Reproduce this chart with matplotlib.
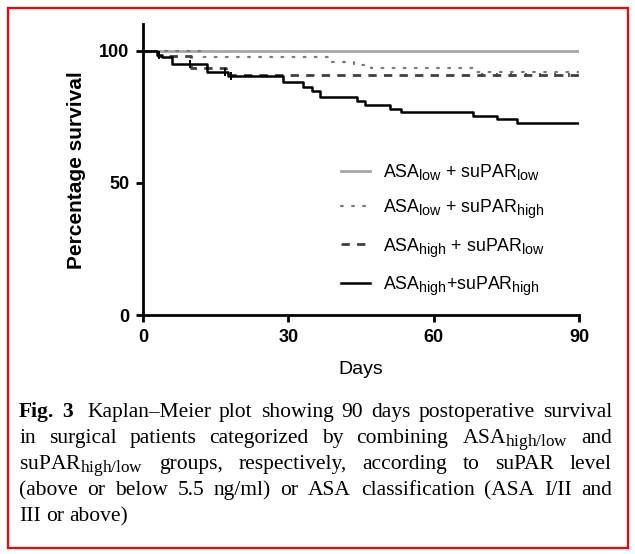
import matplotlib
matplotlib.use("Agg")
import matplotlib.pyplot as plt
from matplotlib.patches import Rectangle
try:
    import matplotlib._mathtext as _mt
    _mt.SHRINK_FACTOR = 0.8
except Exception:
    pass

# ---------------- data ----------------
labels = [r"ASA$_\mathregular{low}$ + suPAR$_\mathregular{low}$",
          r"ASA$_\mathregular{low}$ + suPAR$_\mathregular{high}$",
          r"ASA$_\mathregular{high}$ + suPAR$_\mathregular{low}$",
          r"ASA$_\mathregular{high}$+suPAR$_\mathregular{high}$"]

t_ll = [0, 90]
s_ll = [100, 100]

t_lh = [0, 12.0, 38.4, 43.5, 47.0, 68.3, 90]
s_lh = [100, 97.6, 95.7, 94.5, 93.4, 91.8, 91.8]

t_hl = [0, 3.0, 10.0, 17.2, 90]
s_hl = [100, 97.9, 93.4, 90.8, 90.8]

t_hh = [0, 2.8, 3.9, 5.9, 13.2, 17.5, 28.9, 33.0, 34.9, 36.6, 44.1, 45.9,
        50.9, 53.2, 68.2, 73.1, 77.1, 90]
s_hh = [100, 98.5, 97.6, 94.9, 91.8, 90.6, 88.0, 86.4, 84.9, 82.4, 81.1,
        79.6, 78.1, 76.9, 75.3, 74.0, 72.6, 72.6]

# censored observations (tick marks)
cens_hh_t = [3.3, 9.8, 17.0, 18.2]
cens_hh_s = [98.5, 94.9, 91.8, 90.6]
cens_hl_t = [70, 73, 76, 79, 82, 85, 88]
cens_hl_s = [90.8] * 7

xticks = [0, 30, 60, 90]
yticks = [0, 50, 100]

caption_lines = [
    ["Fig.", "3", "Kaplan–Meier", "plot", "showing", "90", "days", "postoperative", "survival"],
    ["in", "surgical", "patients", "categorized", "by", "combining",
     r"ASA$_\mathregular{high/low}$", "and"],
    [r"suPAR$_\mathregular{high/low}$", "groups,", "respectively,", "according", "to", "suPAR", "level"],
    ["(above", "or", "below", "5.5", "ng/ml)", "or", "ASA", "classification", "(ASA", "I/II", "and"],
    ["III", "or", "above)"],
]

# ---------------- figure ----------------
W, H = 635, 554
fig = plt.figure(figsize=(W / 100, H / 100), dpi=100)

def fx(px):
    return px / W

def fy(py):
    return 1 - py / H

ax_l, ax_r, ax_t, ax_b = 143, 579, 24.3, 315
ax = fig.add_axes([fx(ax_l), fy(ax_b), fx(ax_r) - fx(ax_l), fy(ax_t) - fy(ax_b)])

ax.step(t_ll, s_ll, where="post", color="#a6a6a6", lw=2.0, label=labels[0], zorder=2)
ax.step(t_lh, s_lh, where="post", color="#7a7a7a", lw=1.6, ls=(0, (0.8, 4.2)),
        dash_capstyle="round", label=labels[1], zorder=3)
ax.step(t_hl, s_hl, where="post", color="#404040", lw=2.0, ls=(0, (3.0, 2.6)),
        label=labels[2], zorder=3)
ax.step(t_hh, s_hh, where="post", color="black", lw=1.8, label=labels[3], zorder=4)
ax.plot(cens_hh_t, cens_hh_s, ls="none", marker="|", ms=6, mew=1.4, color="black", zorder=4)
ax.plot(cens_hl_t, cens_hl_s, ls="none", marker="|", ms=3, mew=1.2, color="#404040", zorder=4)

ax.set_xlim(0, 90)
ax.set_ylim(0, 110)
ax.set_xticks(xticks)
ax.set_yticks(yticks)
for sp in ["top", "right"]:
    ax.spines[sp].set_visible(False)
for sp in ["left", "bottom"]:
    ax.spines[sp].set_linewidth(2.0)
ax.spines["left"].set_bounds(0, 110)
ax.tick_params(width=2.0, length=5, labelsize=13, pad=5)
for lab in ax.get_xticklabels() + ax.get_yticklabels():
    lab.set_fontfamily("Liberation Sans")
    lab.set_fontweight("bold")
ax.set_ylabel("Percentage survival", fontsize=15, fontweight="bold",
              family="Liberation Sans", labelpad=9)
ax.set_xlabel("Days", fontsize=14, family="Liberation Sans", labelpad=11)
ax.patch.set_visible(False)

leg = ax.legend(loc="upper left", bbox_to_anchor=(fx(341), fy(162)),
                bbox_transform=fig.transFigure, frameon=False,
                prop={"family": "Liberation Sans", "size": 12.8},
                handlelength=1.65, handletextpad=0.7, labelspacing=0.87,
                borderpad=0, borderaxespad=0)

# red border
fig.patches.append(Rectangle((fx(8), fy(548)), fx(628) - fx(8), fy(8) - fy(548),
                             transform=fig.transFigure, fill=False,
                             edgecolor="#ff0000", lw=1.6, zorder=10))

# caption, justified
renderer = fig.canvas.get_renderer()
x0, x1 = 19, 612
baselines = [417, 443, 469, 495, 521]
csize = 15.5
for i, words in enumerate(caption_lines):
    texts = []
    for j, w in enumerate(words):
        bold = (i == 0 and j < 2)
        t = fig.text(0, fy(baselines[i]), w, fontsize=csize, family="Liberation Serif",
                     fontweight="bold" if bold else "normal", va="baseline", ha="left")
        texts.append(t)
    widths = [t.get_window_extent(renderer).width for t in texts]
    extra = [0] * len(words)
    if i == 0:
        extra[1] = 6
    total = sum(widths) + sum(extra)
    if i < len(caption_lines) - 1:
        gap = (x1 - x0 - total) / (len(words) - 1)
    else:
        gap = 5.2
    x = x0
    for t, w, e in zip(texts, widths, extra):
        t.set_x(fx(x))
        x += w + e + gap

fig.savefig("out.png", dpi=100)
